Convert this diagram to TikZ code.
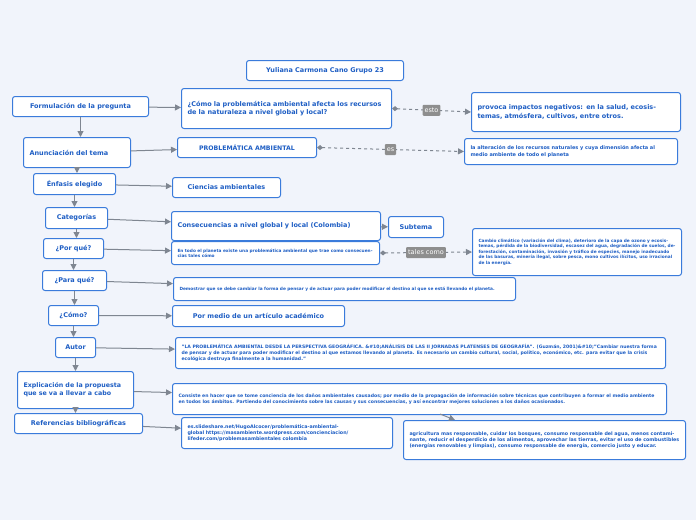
\documentclass[tikz,border=0pt]{standalone}
\usepackage{fontspec}
\setmainfont{DejaVu Sans}
\usetikzlibrary{arrows.meta}
\definecolor{bg}{HTML}{F1F4FB}
\definecolor{bd}{HTML}{3A7BDB}
\definecolor{tx}{HTML}{1E5EC4}
\definecolor{ln}{HTML}{7F8691}
\definecolor{lab}{HTML}{8E8E8E}
\tikzset{
 bx/.style={draw=bd,line width=1pt,fill=white,rounded corners=2.5pt,text=tx,align=left,inner sep=0pt},
 conn/.style={draw=ln,line width=1pt,-{Triangle[length=6pt,width=6pt]}},
 dconn/.style={draw=ln,line width=1pt,dashed,{Diamond[length=6pt,width=5pt]}-{Triangle[length=6pt,width=6pt]}},
 lb/.style={fill=lab,text=white,font=\fontsize{6.5}{8}\selectfont,inner sep=2pt,minimum height=11pt,rounded corners=1pt},
}
\newcommand{\B}[8]{% name x1 y1 x2 y2 size align text
 \node[bx,align=#7,minimum width={#4-#2},minimum height={#5-#3},text width={#4-#2-12},anchor=north west,
   font=\bfseries\fontsize{#6}{\fpeval{#6*1.25}}\selectfont] (#1) at (#2,#3) {#8};}
\begin{document}
\begin{tikzpicture}[x=1pt,y=-1pt]
\fill[bg] (0,0) rectangle (696,520);
\B{title}{246}{60}{403}{80}{6.5}{center}{Yuliana Carmona Cano Grupo 23}
\B{l1}{12}{96}{148}{116}{6.5}{center}{Formulación de la pregunta}
\B{q}{181}{88}{391}{128}{6.5}{left}{¿Cómo la problemática ambiental afecta los recursos de la naturaleza a nivel global y local?}
\B{r1}{471}{92}{680}{131}{6.5}{left}{provoca impactos negativos: en la salud, ecosistemas, atmósfera, cultivos, entre otros.}
\B{l2}{23}{137}{130}{167}{6.5}{left}{Anunciación del tema}
\B{prob}{177}{137}{316}{157}{6.2}{center}{PROBLEMÁTICA AMBIENTAL}
\B{r2}{464}{138}{677}{164}{5}{left}{la alteración de los recursos  naturales y cuya dimensión afecta al medio ambiente de todo el planeta}
\B{l3}{33}{173}{115}{194}{6.5}{center}{Énfasis elegido}
\B{cien}{172}{177}{280}{197}{6.5}{center}{Ciencias ambientales}
\B{l4}{45}{207}{107}{228}{6.5}{center}{Categorías}
\B{cons}{171}{211}{380}{240}{6.5}{left}{Consecuencias a nivel global y local (Colombia)}
\B{sub}{388}{216}{443}{237}{6.5}{center}{Subtema}
\B{l5}{43}{238}{103}{258}{6.5}{center}{¿Por qué?}
\B{todo}{171}{241}{379}{264}{4.3}{left}{En todo el planeta existe una problemática ambiental que trae como consecuencias tales cómo}
\B{r3}{472}{228}{681}{275}{4.3}{left}{Cambio climático (variación del clima), deterioro de la capa de ozono y ecosistemas, pérdida de la  biodiversidad, escasez del agua, degradación de suelos, deforestación, contaminación, invasión y tráfico de especies, manejo inadecuado de las basuras, minería ilegal, sobre pesca, mono cultivos ilícitos, uso irracional de la energía.}
\B{l6}{42}{270}{106}{290}{6.5}{center}{¿Para qué?}
\B{dem}{173}{277}{515}{300}{4.3}{left}{Demostrar que se debe cambiar la forma de pensar y de actuar para poder modificar el destino al que se está llevando el planeta.}
\B{l7}{48}{305}{98}{325}{6.5}{center}{¿Cómo?}
\B{por}{172}{305}{344}{326}{6.5}{center}{Por medio de un artículo académico}
\B{l8}{55}{337}{95}{357}{6.5}{center}{Autor}
\B{aut}{175}{337}{665}{368}{4.6}{left}{"LA PROBLEMÁTICA AMBIENTAL DESDE LA PERSPECTIVA GEOGRÁFICA. \&\#10;ANÁLISIS DE LAS II JORNADAS PLATENSES DE GEOGRAFÍA". (Guzmán, 2001)\&\#10;"Cambiar nuestra forma de pensar y de actuar para poder modificar el destino al que estamos llevando al planeta. Es necesario un cambio cultural, social, político, económico, etc. para evitar que la crisis ecológica destruya finalmente a la humanidad."}
\B{l9}{17}{371}{133}{408}{6.3}{left}{Explicación de la propuesta que se va a llevar a cabo}
\B{expl}{172}{383}{666}{414}{4.6}{left}{Consiste en hacer que se tome conciencia de los daños ambientales causados; por medio de la propagación de información sobre técnicas que contribuyen a formar el medio ambiente en todos los ámbitos.  Partiendo del conocimiento sobre las causas y sus consecuencias, y así encontrar mejores soluciones a los daños ocasionados.}
\B{l10}{14}{413}{142}{433}{6.5}{center}{Referencias bibliográficas}
\B{refs}{181}{417}{392}{448}{4.8}{left}{es.slideshare.net/HugoAlcocer/problemática-ambiental-global https://masambiente.wordpress.com/concienciacion/ lifeder.com/problemasambientales colombia}
\B{agr}{403}{420}{685}{459}{4.8}{left}{agricultura mas responsable, cuidar los bosques, consumo responsable del agua, menos contaminante, reducir el desperdicio de los alimentos, aprovechar las tierras, evitar el uso de combustibles (energías renovables y limpias), consumo responsable de energía, comercio justo y educar.}
% vertical chain
\foreach \a/\b in {l1/l2,l2/l3,l3/l4,l4/l5,l5/l6,l6/l7,l7/l8,l8/l9,l9/l10}
 \draw[conn] (\a.south) -- (\a.south |- \b.north);
% horizontal
\draw[conn] (l1) -- (q);
\draw[conn] (l2) -- (prob);
\draw[conn] (l3) -- (cien);
\draw[conn] (l4) -- (cons);
\draw[conn] (l5) -- (todo);
\draw[conn] (l6) -- (dem);
\draw[conn] (l7) -- (por);
\draw[conn] (l8) -- (aut);
\draw[conn] (l9) -- (expl);
\draw[conn] (l10) -- (refs);
\draw[conn] (cons) -- (sub);
\coordinate (ea) at (440,414);
\draw[conn] (ea) -- (agr.north -| 455,0);
% labeled dashed
\draw[dconn] (q.east) -- node[lb,solid]{esto} (r1.west);
\draw[dconn] (prob.east) -- node[lb,solid]{es} (r2.west);
\draw[dconn] (todo.east) -- node[lb,solid]{tales como} (r3.west);
\end{tikzpicture}
\end{document}
